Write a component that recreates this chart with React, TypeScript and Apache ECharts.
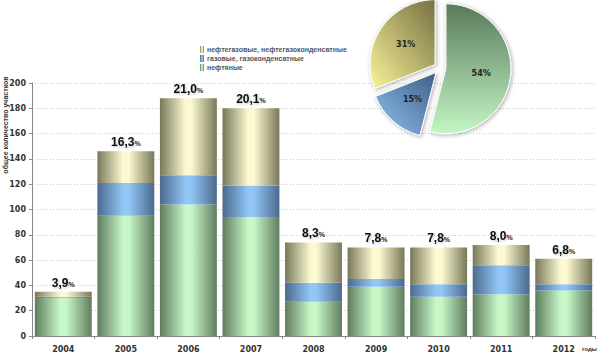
import React, { useEffect, useRef } from "react";
import * as echarts from "echarts";

const years = ["2004", "2005", "2006", "2007", "2008", "2009", "2010", "2011", "2012"];
const oil = [30, 95, 104, 94, 27, 39, 31, 33, 36];
const gas = [1, 26, 23, 25, 15, 6, 10, 23, 5];
const oilGas = [4, 25, 61, 61, 32, 25, 29, 16, 20];
const shareLabels = ["3,9", "16,3", "21,0", "20,1", "8,3", "7,8", "7,8", "8,0", "6,8"];
const seriesNames = ["нефтегазовые, нефтегазоконденсатные", "газовые, газоконденсатные", "нефтяные"];
const pieValues = [54, 15, 31];
const yTicks = [0, 200, 20];

const hGrad = (edge: string, mid: string) =>
  new echarts.graphic.LinearGradient(0, 0, 1, 0, [
    { offset: 0, color: edge },
    { offset: 0.45, color: mid },
    { offset: 0.55, color: mid },
    { offset: 1, color: edge },
  ]);

export default function App() {
  const ref = useRef<HTMLDivElement>(null);
  useEffect(() => {
    document.body.style.margin = "0";
    const chart = echarts.init(ref.current!, null, { renderer: "svg" });
    const font = "'DejaVu Sans', Verdana, sans-serif";
    const lfont = "'Liberation Sans', Arial, sans-serif";
    const greenBar = hGrad("#5f7c5f", "#c8f8c8");
    const blueBar = hGrad("#4b6a8e", "#92c6f6");
    const yellowBar = hGrad("#78785a", "#fdfad2");
    chart.setOption({
      animation: false,
      textStyle: { fontFamily: font },
      grid: { left: 32, right: 5, top: 83, bottom: 18 },
      legend: {
        orient: "vertical",
        left: 195,
        top: 41,
        itemWidth: 4,
        itemHeight: 7,
        itemGap: 2,
        icon: "rect",
        data: seriesNames,
        selectedMode: false,
        textStyle: { fontSize: 7, fontWeight: "bold", color: "#555", fontFamily: lfont, padding: [0, 0, 0, -2] },
      },
      xAxis: {
        type: "category",
        data: years,
        axisLine: { lineStyle: { color: "#888" } },
        axisTick: { show: true, alignWithLabel: false, length: 3, lineStyle: { color: "#888" } },
        axisLabel: { fontSize: 8, fontWeight: "bold", color: "#333", margin: 9 },
      },
      yAxis: {
        type: "value",
        min: yTicks[0],
        max: yTicks[1],
        interval: yTicks[2],
        axisLine: { show: true, lineStyle: { color: "#888" } },
        axisTick: { show: true, length: 3, lineStyle: { color: "#888" } },
        axisLabel: { fontSize: 8, fontWeight: "bold", color: "#333", margin: 6 },
        splitLine: { lineStyle: { color: "#ccc", type: [1, 2] } },
      },
      series: [
        {
          name: seriesNames[2],
          type: "bar",
          stack: "s",
          data: oil,
          barCategoryGap: "9%",
          itemStyle: { color: greenBar },
        },
        {
          name: seriesNames[1],
          type: "bar",
          stack: "s",
          data: gas,
          itemStyle: { color: blueBar },
        },
        {
          name: seriesNames[0],
          type: "bar",
          stack: "s",
          data: oilGas,
          itemStyle: { color: yellowBar },
          label: {
            show: true,
            position: "top",
            distance: 3,
            formatter: (p: any) => `{a|${shareLabels[p.dataIndex]}}{b|%}`,
            rich: {
              a: {
                fontSize: 12,
                fontWeight: "bold",
                color: "#111",
                fontFamily: lfont,
                textShadowColor: "rgba(0,0,0,0.25)",
                textShadowBlur: 2,
                textShadowOffsetX: 1,
                textShadowOffsetY: 1,
              },
              b: {
                fontSize: 7,
                fontWeight: "bold",
                color: "#222",
                padding: [3, 0, 0, 0],
                fontFamily: lfont,
              },
            },
          },
        },
        {
          type: "pie",
          center: [440, 68],
          radius: 65,
          startAngle: 90,
          clockwise: true,
          selectedMode: "multiple",
          selectedOffset: 6,
          silent: true,
          label: {
            show: true,
            position: "inside",
            formatter: "{c}%",
            fontSize: 8,
            fontWeight: "bold",
            color: "#222",
          },
          labelLine: { show: false },
          itemStyle: {
            borderColor: "#fff",
            borderWidth: 1,
            shadowColor: "rgba(0,0,0,0.35)",
            shadowBlur: 4,
            shadowOffsetX: 1,
            shadowOffsetY: 1,
          },
          data: [
            {
              value: pieValues[0],
              selected: true,
              itemStyle: {
                color: new echarts.graphic.LinearGradient(0, 0, 0, 1, [
                  { offset: 0, color: "#5a7a5c" },
                  { offset: 1, color: "#c4f6c4" },
                ]),
              },
            },
            {
              value: pieValues[1],
              selected: true,
              itemStyle: {
                color: new echarts.graphic.LinearGradient(1, 0, 0, 1, [
                  { offset: 0, color: "#3e5e84" },
                  { offset: 1, color: "#90c2f2" },
                ]),
              },
            },
            {
              value: pieValues[2],
              selected: true,
              itemStyle: {
                color: new echarts.graphic.LinearGradient(1, 0, 0, 1, [
                  { offset: 0, color: "#757040" },
                  { offset: 1, color: "#faf49a" },
                ]),
              },
            },
          ],
        },
      ],
      graphic: [
        {
          type: "text",
          x: 2,
          y: 125,
          rotation: Math.PI / 2,
          style: {
            text: "общее количество участков",
            fontSize: 7,
            fontWeight: "bold",
            fill: "#333",
            align: "center",
            verticalAlign: "top",
            fontFamily: lfont,
          },
        },
        {
          type: "text",
          x: 582,
          y: 346,
          style: {
            text: "годы",
            fontSize: 6,
            fontWeight: "bold",
            fill: "#333",
            fontFamily: lfont,
          },
        },
      ],
    });
    return () => chart.dispose();
  }, []);
  return <div ref={ref} style={{ width: 600, height: 354 }} />;
}
